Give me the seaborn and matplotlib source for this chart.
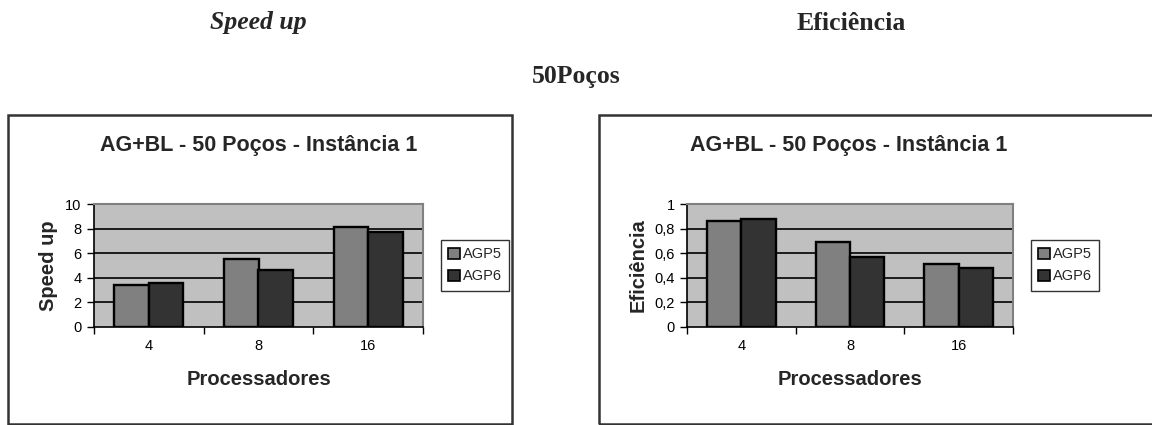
import matplotlib
matplotlib.use("Agg")
import matplotlib.pyplot as plt
from matplotlib.patches import Rectangle
import seaborn as sns
import pandas as pd

# Data
processors = ["4", "8", "16"]
series = ["AGP5", "AGP6"]
speedup_agp5 = [3.40, 5.54, 8.12]
speedup_agp6 = [3.56, 4.62, 7.72]
eff_agp5 = [0.86, 0.69, 0.51]
eff_agp6 = [0.88, 0.57, 0.48]

speedup_ticks = [0, 2, 4, 6, 8, 10]
speedup_ticklabels = ["0", "2", "4", "6", "8", "10"]
eff_ticks = [0, 0.2, 0.4, 0.6, 0.8, 1.0]
eff_ticklabels = ["0", "0,2", "0,4", "0,6", "0,8", "1"]

chart_title = "AG+BL - 50 Poços - Instância 1"
x_label = "Processadores"

sns.set_theme(style="white")
plt.rcParams["font.family"] = ["Liberation Sans", "DejaVu Sans"]

W, H = 1152, 425
fig = plt.figure(figsize=(W / 100, H / 100), dpi=100)


def fx(px):
    return px / W


def fy(py):
    return 1 - py / H


palette = {"AGP5": "#808080", "AGP6": "#333333"}


def make_frame(a5, a6):
    return pd.DataFrame({
        "proc": processors * 2,
        "serie": [series[0]] * 3 + [series[1]] * 3,
        "valor": list(a5) + list(a6),
    })


def draw_panel(left, right, box_left, box_right, title_x, a5, a6, ylabel,
               ticks, ticklabels, legend_left):
    top, bottom = 204, 327
    ax = fig.add_axes([fx(left), fy(bottom), fx(right - left), (bottom - top) / H])
    df = make_frame(a5, a6)
    sns.barplot(data=df, x="proc", y="valor", hue="serie", order=processors,
                hue_order=series, palette=palette, width=0.632, ax=ax,
                edgecolor="black", linewidth=1.7, saturation=1, legend=False)
    ax.set_facecolor("#C0C0C0")
    ax.set_xlim(-0.5, 2.5)
    ax.set_ylim(ticks[0], ticks[-1])
    ax.set_yticks(ticks)
    ax.set_yticklabels(ticklabels, fontsize=10.5, color="black")
    for t in ticks[1:-1]:
        ax.axhline(t, color="black", linewidth=1.2, zorder=0.5)
    ax.set_axisbelow(True)
    # category boundaries carry the tick marks, labels sit at centres
    ax.set_xticks([-0.5, 0.5, 1.5, 2.5])
    ax.set_xticklabels([])
    ax.set_xticks([0, 1, 2], minor=True)
    ax.set_xticklabels(processors, minor=True, fontsize=10.5, color="black")
    ax.tick_params(axis="x", which="major", direction="out", length=5, width=1,
                   color="black", bottom=True)
    ax.tick_params(axis="x", which="minor", length=0, pad=9)
    ax.tick_params(axis="y", direction="out", length=5, width=1, color="black",
                   left=True, pad=4)
    for side in ("top", "right"):
        ax.spines[side].set_color("#808080")
        ax.spines[side].set_linewidth(1.5)
    for side in ("left", "bottom"):
        ax.spines[side].set_color("black")
        ax.spines[side].set_linewidth(1.2)
    ax.set_xlabel(x_label, fontsize=14.5, fontweight="bold", labelpad=12)
    ax.set_ylabel(ylabel, fontsize=14.5, fontweight="bold", labelpad=5)

    # legend
    handles = [Rectangle((0, 0), 1, 1, facecolor=palette[s], edgecolor="black",
                         linewidth=1.2) for s in series]
    leg = fig.legend(handles, series, loc="upper left",
                     bbox_to_anchor=(fx(legend_left), fy(240)),
                     frameon=True, fancybox=False, fontsize=10.5,
                     handlelength=0.8, handleheight=0.8, handletextpad=0.2,
                     borderpad=0.5, labelspacing=0.55, borderaxespad=0)
    leg.get_frame().set_edgecolor("black")
    leg.get_frame().set_linewidth(1.0)

    # surrounding chart frame and title
    fig.patches.append(Rectangle((fx(box_left), fy(424)), fx(box_right - box_left),
                                 (424 - 115) / H, transform=fig.transFigure,
                                 fill=False, edgecolor="#333333", linewidth=1.8))
    fig.text(fx(title_x), fy(145), chart_title, ha="center", va="center",
             fontsize=15.5, fontweight="bold")
    return ax


draw_panel(94, 423, 8, 512, 259, speedup_agp5, speedup_agp6, "Speed up",
           speedup_ticks, speedup_ticklabels, 441)
draw_panel(687, 1013, 599, 1160, 849, eff_agp5, eff_agp6, "Eficiência",
           eff_ticks, eff_ticklabels, 1031)

# page headings
serif = ["Liberation Serif", "DejaVu Serif"]
fig.text(fx(258), fy(23), "Speed up", ha="center", va="center", fontsize=18.5,
         fontweight="bold", fontstyle="italic", family=serif)
fig.text(fx(851), fy(23), "Eficiência", ha="center", va="center", fontsize=18.5,
         fontweight="bold", family=serif)
fig.text(fx(576), fy(76), "50Poços", ha="center", va="center", fontsize=18.5,
         fontweight="bold", family=serif)

fig.savefig("out.png", dpi=100, facecolor="white")
